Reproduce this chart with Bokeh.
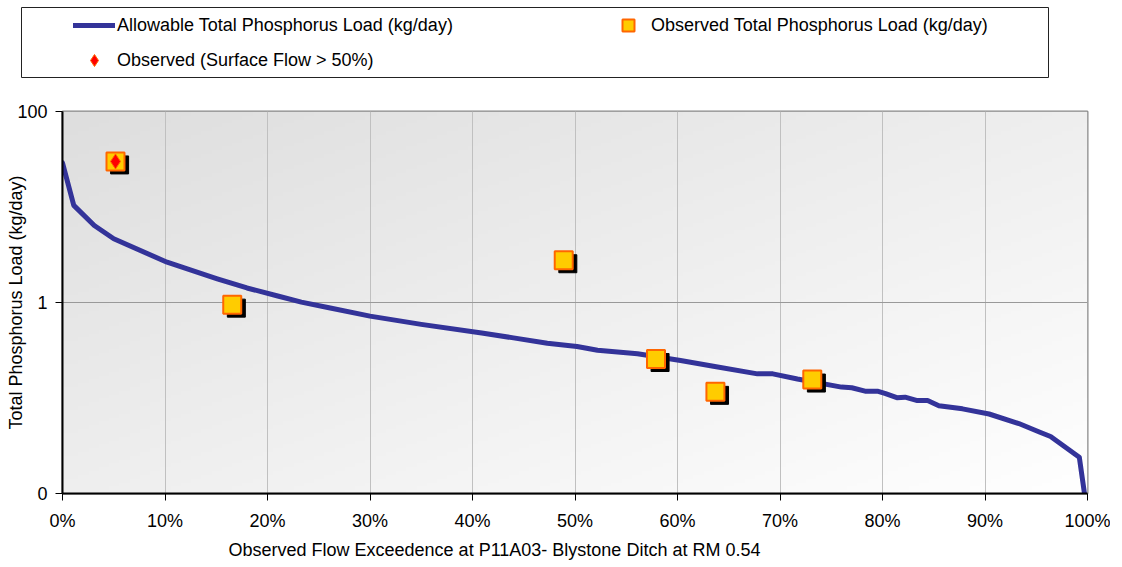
import numpy as np
from bokeh.plotting import figure
from bokeh.layouts import column
from bokeh.models import (Legend, LegendItem, FixedTicker, PrintfTickFormatter,
                          Title, ColumnDataSource, Range1d)
from bokeh.embed import file_html
from bokeh.resources import INLINE

FONT = "Liberation Sans"

# ---------------- data ----------------
allow_pct = [0.0, 1.1, 3.1, 5.0, 10.2, 15.1, 18.0, 21.0, 23.3, 26.0, 30.0, 35.0,
             40.9, 44.0, 47.3, 50.2, 52.2, 56.1, 60.3, 63.5, 67.8, 69.3, 71.7,
             76.0, 77.0, 78.3, 79.5, 80.3, 81.4, 82.2, 83.4, 84.4, 85.5, 87.8,
             90.4, 93.3, 95.3, 96.4, 99.2, 100.0]
allow_load = [29.0, 10.4, 6.4, 4.65, 2.64, 1.77, 1.42, 1.17, 1.01, 0.88, 0.72, 0.59,
              0.48, 0.426, 0.375, 0.346, 0.316, 0.29, 0.247, 0.215, 0.179, 0.179, 0.158,
              0.13, 0.128, 0.118, 0.118, 0.111, 0.1007, 0.102, 0.094, 0.094, 0.083, 0.077,
              0.068, 0.054, 0.044, 0.0395, 0.024, 0.006]

obs_pct = [5.17, 16.56, 48.9, 57.9, 63.7, 73.15]
obs_load = [30.0, 0.95, 2.77, 0.256, 0.116, 0.156]

surf_pct = [5.17]
surf_load = [30.0]

x_ticks = list(range(0, 101, 10))
y_ticks = [0.01, 1, 100]
y_tick_labels = ["0", "1", "100"]

legend_labels = ["Allowable Total Phosphorus Load (kg/day)",
                 "Observed Total Phosphorus Load (kg/day)",
                 "Observed (Surface Flow > 50%)"]
x_title = "Observed Flow Exceedence at P11A03- Blystone Ditch at RM 0.54"
y_title = "Total Phosphorus Load (kg/day)"

# shadow offset of the Excel-like markers (about 4 px right, 3.5 px down)
SHADOW_DX = 0.4
SHADOW_FY = 10 ** (-3.5 / 95.5)

LINE_STYLE = dict(line_color="#333399", line_width=5, line_join="round", line_cap="round")
OBS_STYLE = dict(marker="square", size=18, fill_color="#FFCC00",
                 line_color="#FF6600", line_width=2)
SURF_STYLE = dict(marker="diamond", size=15, fill_color="#FF0000",
                  line_color="#FF6600", line_width=1)

W = 1110
H_LEG = 80
H_MAIN = 486

# ---------------- main figure ----------------
p = figure(width=W, height=H_MAIN, y_axis_type="log",
           x_range=Range1d(0, 100), y_range=Range1d(0.01, 100),
           output_backend="svg", toolbar_location=None,
           min_border_left=62, min_border_right=23, min_border_top=111 - H_LEG,
           min_border_bottom=73,
           background_fill_color="#eeeeee", border_fill_color="white",
           outline_line_color="#888888", outline_line_width=2)

# gradient background (grey top-left -> white bottom-right)
nx, ny = 200, 100
u = np.linspace(0, 1, nx)[None, :]
v = 1 - np.linspace(0, 1, ny)[:, None]  # row 0 is bottom
g = (222 + (255 - 222) * (0.5 * u + 0.5 * v)).astype(np.uint32)
img = np.empty((ny, nx), dtype=np.uint32)
view = img.view(dtype=np.uint8).reshape((ny, nx, 4))
view[:, :, 0] = g
view[:, :, 1] = g
view[:, :, 2] = g
view[:, :, 3] = 255
p.image_rgba(image=[img], x=0, y=0.01, dw=100, dh=100 - 0.01, level="image")

# axes
p.xaxis.ticker = FixedTicker(ticks=x_ticks)
p.xaxis.formatter = PrintfTickFormatter(format="%d%%")
p.yaxis.ticker = FixedTicker(ticks=y_ticks)
p.yaxis.major_label_overrides = {t: l for t, l in zip(y_ticks, y_tick_labels)}
for ax in (p.xaxis[0], p.yaxis[0]):
    ax.axis_line_color = "black"
    ax.axis_line_width = 2
    ax.major_tick_line_color = "black"
    ax.major_tick_line_width = 1
    ax.major_tick_out = 7
    ax.major_tick_in = 0
    ax.minor_tick_line_color = None
    ax.major_label_text_font = FONT
    ax.major_label_text_font_size = "18px"
    ax.major_label_text_color = "black"
    ax.axis_label_text_font = FONT
    ax.axis_label_text_font_size = "18px"
    ax.axis_label_text_font_style = "normal"
    ax.axis_label_text_color = "black"
p.xaxis.major_label_standoff = 10
p.yaxis.major_label_standoff = 8
p.yaxis.axis_label = y_title
p.yaxis.axis_label_standoff = -12

p.xgrid.ticker = FixedTicker(ticks=x_ticks)
p.xgrid.grid_line_color = "#c0c0c0"
p.xgrid.grid_line_width = 1
p.ygrid.ticker = FixedTicker(ticks=y_ticks)
p.ygrid.grid_line_color = "#999999"
p.ygrid.grid_line_width = 1

# x axis title (offset to the left like the original)
p.add_layout(Title(text=x_title, align="left", offset=166, text_font=FONT,
                   text_font_size="18px", text_font_style="normal",
                   text_color="black", standoff=9), "below")

# glyphs
p.line(allow_pct, allow_load, **LINE_STYLE)
shadow_src = ColumnDataSource(dict(
    x=[x + SHADOW_DX for x in obs_pct],
    y=[y * SHADOW_FY for y in obs_load]))
p.scatter("x", "y", source=shadow_src, marker="square", size=18,
          fill_color="black", line_color="black", line_width=1)
p.scatter(obs_pct, obs_load, **OBS_STYLE)
p.scatter(surf_pct, surf_load, **SURF_STYLE)

# ---------------- legend strip (its frame is the legend box) ----------------
lg = figure(width=W, height=H_LEG, x_range=Range1d(1000, 1001),
            y_range=Range1d(1000, 1001), output_backend="svg",
            toolbar_location=None, x_axis_location=None, y_axis_location=None,
            min_border_left=21, min_border_right=W - 1048, min_border_top=7,
            min_border_bottom=H_LEG - 77,
            background_fill_color="white", border_fill_color="white",
            outline_line_color="#222222", outline_line_width=1)
lg.xgrid.visible = False
lg.ygrid.visible = False
# same series drawn in the (off-range) legend strip so the legend shows their glyphs
leg_line = lg.line(allow_pct, allow_load, **LINE_STYLE)
leg_obs = lg.scatter(obs_pct, obs_load, **OBS_STYLE)
leg_surf = lg.scatter(surf_pct, surf_load, **SURF_STYLE)

common = dict(margin=0, padding=0, border_line_alpha=0, background_fill_alpha=0,
              label_text_font=FONT, label_text_font_size="18px",
              label_text_color="black", glyph_width=42, glyph_height=30,
              label_height=30, label_standoff=2, spacing=5,
              orientation="vertical")
leg_a = Legend(items=[LegendItem(label=legend_labels[0], renderers=[leg_line]),
                      LegendItem(label=legend_labels[2], renderers=[leg_surf])],
               location=(52, 2), **common)
leg_b = Legend(items=[LegendItem(label=legend_labels[1], renderers=[leg_obs])],
               location=(586, 37), **common)
lg.add_layout(leg_a)
lg.add_layout(leg_b)

# keep each figure's own borders (no frame alignment between the two)
for fig in (lg, p):
    try:
        fig.frame_align = False
    except Exception:
        pass

layout = column(lg, p, spacing=0)
open("out.html", "w").write(file_html(layout, INLINE))
